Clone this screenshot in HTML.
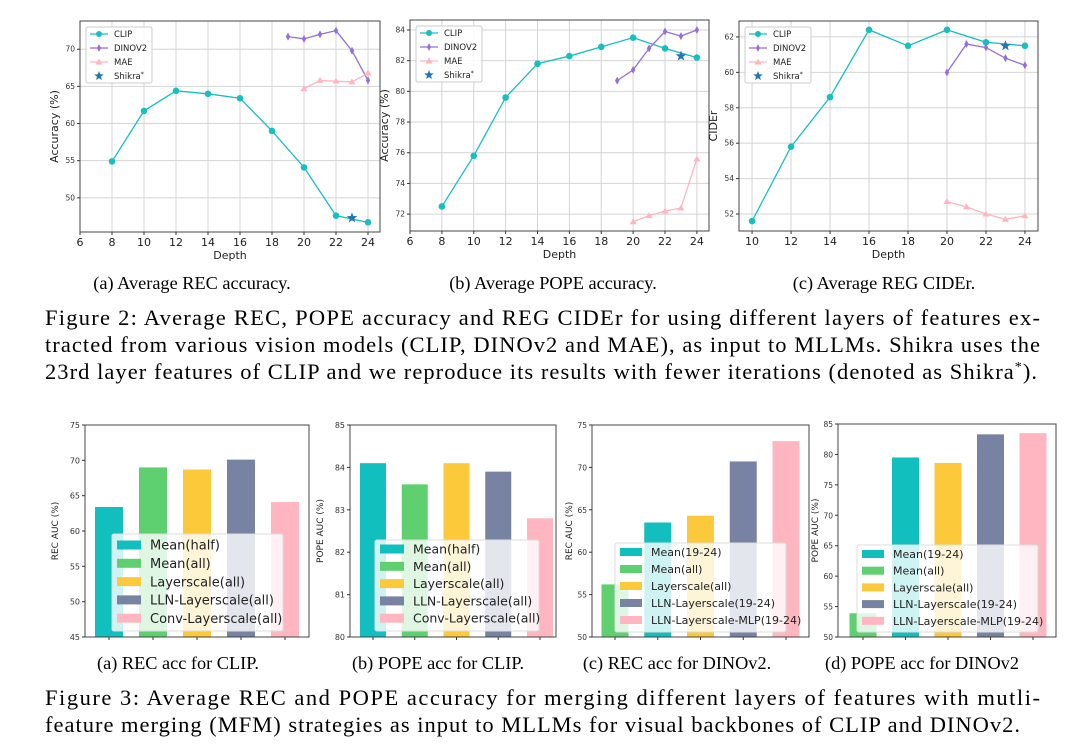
<!DOCTYPE html>
<html><head><meta charset="utf-8"><style>
html,body{margin:0;padding:0;background:#fff;width:1076px;height:751px;overflow:hidden}
svg{display:block}
</style></head><body>
<svg id="fig" width="1076" height="751" xmlns="http://www.w3.org/2000/svg" font-family="'DejaVu Sans','Liberation Sans',sans-serif">
<g id="captions" font-family="'Liberation Serif',serif" fill="#000">
<text x="192" y="289" font-size="18.3" text-anchor="middle">(a) Average REC accuracy.</text>
<text x="553" y="289" font-size="18.3" text-anchor="middle">(b) Average POPE accuracy.</text>
<text x="884" y="289" font-size="18.3" text-anchor="middle">(c) Average REG CIDEr.</text>
<text x="45" y="325" font-size="22.5" textLength="995" lengthAdjust="spacing">Figure 2: Average REC, POPE accuracy and REG CIDEr for using different layers of features ex-</text>
<text x="45" y="352" font-size="22.5" textLength="995" lengthAdjust="spacing">tracted from various vision models (CLIP, DINOv2 and MAE), as input to MLLMs. Shikra uses the</text>
<text x="45" y="379" font-size="22.5" textLength="992" lengthAdjust="spacing">23rd layer features of CLIP and we reproduce its results with fewer iterations (denoted as Shikra<tspan dy="-8" font-size="14">*</tspan><tspan dy="8">).</tspan></text>
<text x="178" y="669" font-size="18.3" text-anchor="middle">(a) REC acc for CLIP.</text>
<text x="438" y="669" font-size="18.3" text-anchor="middle">(b) POPE acc for CLIP.</text>
<text x="677" y="669" font-size="18.3" text-anchor="middle">(c) REC acc for DINOv2.</text>
<text x="922" y="669" font-size="18.3" text-anchor="middle">(d) POPE acc for DINOv2</text>
<text x="45" y="705" font-size="22.5" textLength="995" lengthAdjust="spacing">Figure 3: Average REC and POPE accuracy for merging different layers of features with mutli-</text>
<text x="45" y="732" font-size="22.5" textLength="975" lengthAdjust="spacing">feature merging (MFM) strategies as input to MLLMs for visual backbones of CLIP and DINOv2.</text>
</g>
</svg>
<script>
// ---- Figure 2 data ----
const depthClip1 = [8,10,12,14,16,18,20,22,24];
const clipRec = [54.9,61.7,64.4,64.0,63.4,59.0,54.1,47.6,46.7];
const depthDino = [19,20,21,22,23,24];
const dinoRec = [71.7,71.4,72.0,72.5,69.8,65.8];
const depthMae = [20,21,22,23,24];
const maeRec = [64.7,65.8,65.7,65.6,66.8];
const shikraRec = 47.3;
const clipPope = [72.5,75.8,79.6,81.8,82.3,82.9,83.5,82.8,82.2];
const dinoPope = [80.7,81.4,82.8,83.9,83.6,84.0];
const maePope = [71.5,71.9,72.2,72.4,75.6];
const shikraPope = 82.3;
const depthClip3 = [10,12,14,16,18,20,22,24];
const clipCider = [51.6,55.8,58.6,62.4,61.5,62.4,61.7,61.5];
const dinoDepth3 = [20,21,22,23,24];
const dinoCider = [60.0,61.6,61.4,60.8,60.4];
const maeCider = [52.7,52.4,52.0,51.7,51.9];
const shikraCider = 61.5;
const shikraDepth = 23;
const xTicksA = [6,8,10,12,14,16,18,20,22,24];
const xTicksC = [10,12,14,16,18,20,22,24];
const yTicksRec = [50,55,60,65,70];
const yTicksPope = [72,74,76,78,80,82,84];
const yTicksCider = [52,54,56,58,60,62];
// ---- Figure 3 data ----
const labelsClip = ["Mean(half)","Mean(all)","Layerscale(all)","LLN-Layerscale(all)","Conv-Layerscale(all)"];
const recClip = [63.4,69.0,68.7,70.1,64.1];
const popeClip = [84.1,83.6,84.1,83.9,82.8];
const labelsDino = ["Mean(19-24)","Mean(all)","Layerscale(all)","LLN-Layerscale(19-24)","LLN-Layerscale-MLP(19-24)"];
const barOrderDino = [1,0,2,3,4];
const recDino = [63.5,56.2,64.3,70.7,73.1];
const popeDino = [79.5,53.9,78.6,83.3,83.5];
const yTicksRecClip = [45,50,55,60,65,70,75];
const yTicksPopeClip = [80,81,82,83,84,85];
const yTicksRecDino = [50,55,60,65,70,75];
const yTicksPopeDino = [50,55,60,65,70,75,80,85];

const NS="http://www.w3.org/2000/svg";
const svg=document.getElementById('fig');
function mk(tag,attrs,parent){const e=document.createElementNS(NS,tag);for(const k in attrs)e.setAttribute(k,attrs[k]);(parent||svg).appendChild(e);return e;}
const COL={clip:"#17bfbf",dino:"#9370db",mae:"#ffb6c1",shikra:"#1f77b4"};
const BAR=["#12bfbf","#5fd070","#fbc93a","#7882a3","#ffb6c1"];

function starPath(cx,cy,r){let d="";for(let i=0;i<10;i++){const a=-Math.PI/2+i*Math.PI/5;const rr=i%2?r*0.42:r;d+=(i?"L":"M")+(cx+rr*Math.cos(a)).toFixed(2)+","+(cy+rr*Math.sin(a)).toFixed(2);}return d+"Z";}

function lineChart(o){
  const g=mk('g',{});
  
  
  const sx=v=>o.x0+(v-o.xmin)/(o.xmax-o.xmin)*(o.x1-o.x0);
  const sy=v=>o.y1-(v-o.ymin)/(o.ymax-o.ymin)*(o.y1-o.y0);
  o.xt.forEach(t=>{
    const l=mk('line',{x1:sx(t),x2:sx(t),y1:o.y0,y2:o.y1,stroke:"#d4d4d4","stroke-width":1},g);
    
    mk('line',{x1:sx(t),x2:sx(t),y1:o.y1,y2:o.y1+3,stroke:"#333"},g);
    const tx=mk('text',{x:sx(t),y:o.y1+14,"font-size":11,"text-anchor":"middle",fill:"#222"},g);tx.textContent=t;
    
  });
  o.yt.forEach(t=>{
    const l=mk('line',{x1:o.x0,x2:o.x1,y1:sy(t),y2:sy(t),stroke:"#d4d4d4","stroke-width":1},g);
    
    mk('line',{x1:o.x0-3,x2:o.x0,y1:sy(t),y2:sy(t),stroke:"#333"},g);
    const tx=mk('text',{x:o.x0-5,y:sy(t)+2.5,"font-size":7.5,"text-anchor":"end",fill:"#333"},g);tx.textContent=t;
    
  });
  const fr=mk('rect',{x:o.x0,y:o.y0,width:o.x1-o.x0,height:o.y1-o.y0,fill:"none",stroke:"#444","stroke-width":1},g);
  
  const xl=mk('text',{x:(o.x0+o.x1)/2,y:o.y1+27,"font-size":11,"text-anchor":"middle",fill:"#222"},g);xl.textContent="Depth";
  
  const yl=mk('text',{x:0,y:0,"font-size":11,"text-anchor":"middle",fill:"#222",transform:`translate(${o.x0-o.ylOff},${(o.y0+o.y1)/2}) rotate(-90)`},g);yl.textContent=o.ylabel;
  
  const series=[["clip",o.cx,o.cy],["dino",o.dx,o.dy],["mae",o.mx,o.my]];
  series.forEach(([k,xs,ys])=>{
    const pl=mk('polyline',{points:xs.map((x,i)=>sx(x)+","+sy(ys[i])).join(" "),fill:"none",stroke:COL[k],"stroke-width":1.3},g);
    
    xs.forEach((x,i)=>{
      const X=sx(x),Y=sy(ys[i]);let m;
      if(k==="clip")m=mk('circle',{cx:X,cy:Y,r:3.3,fill:COL[k]},g);
      else if(k==="dino")m=mk('path',{d:`M${X},${Y-4}L${X+2.2},${Y}L${X},${Y+4}L${X-2.2},${Y}Z`,fill:COL[k]},g);
      else m=mk('path',{d:`M${X},${Y-3.5}L${X+3.5},${Y+2.5}L${X-3.5},${Y+2.5}Z`,fill:COL[k]},g);
      
    });
  });
  const st=mk('path',{d:starPath(sx(shikraDepth),sy(o.sh),5.5),fill:COL.shikra},g);
  
  const lx=o.x0+6,ly=o.y0+6;
  const lg=mk('rect',{x:lx,y:ly,width:66,height:56,fill:"#fff","fill-opacity":0.85,stroke:"#ccc",rx:2},g);
  
  const names=["CLIP","DINOV2","MAE","Shikra"];const keys=["clip","dino","mae","shikra"];
  keys.forEach((k,i)=>{
    const y=ly+7+i*14,X=lx+13;
    if(k!=="shikra")mk('line',{x1:lx+4,x2:lx+22,y1:y,y2:y,stroke:COL[k],"stroke-width":1.3},g);
    if(k==="clip")mk('circle',{cx:X,cy:y,r:3,fill:COL[k]},g);
    else if(k==="dino")mk('path',{d:`M${X},${y-4}L${X+2},${y}L${X},${y+4}L${X-2},${y}Z`,fill:COL[k]},g);
    else if(k==="mae")mk('path',{d:`M${X},${y-3.5}L${X+3.5},${y+2.5}L${X-3.5},${y+2.5}Z`,fill:COL[k]},g);
    else mk('path',{d:starPath(X,y,5),fill:COL[k]},g);
    const t=mk('text',{x:lx+28,y:y+3,"font-size":8.5,fill:"#222"},g);t.textContent=names[i];
    if(k==="shikra"){const s=mk('tspan',{dy:-3,"font-size":6},t);s.textContent="*";}
    
  });
}

lineChart({name:"rec-accuracy-chart",x0:80,x1:380,y0:21,y1:232,xmin:6,xmax:24.75,ymin:45.4,ymax:73.8,xt:xTicksA,yt:yTicksRec,ylabel:"Accuracy (%)",ylOff:22,
  cx:depthClip1,cy:clipRec,dx:depthDino,dy:dinoRec,mx:depthMae,my:maeRec,sh:shikraRec});
lineChart({name:"pope-accuracy-chart",x0:410,x1:709,y0:20,y1:231,xmin:6,xmax:24.76,ymin:70.9,ymax:84.65,xt:xTicksA,yt:yTicksPope,ylabel:"Accuracy (%)",ylOff:22,
  cx:depthClip1,cy:clipPope,dx:depthDino,dy:dinoPope,mx:depthMae,my:maePope,sh:shikraPope});
lineChart({name:"reg-cider-chart",x0:739,x1:1038,y0:21,y1:231,xmin:9.33,xmax:24.67,ymin:51.04,ymax:62.9,xt:xTicksC,yt:yTicksCider,ylabel:"CIDEr",ylOff:22,
  cx:depthClip3,cy:clipCider,dx:dinoDepth3,dy:dinoCider,mx:dinoDepth3,my:maeCider,sh:shikraCider});

function barChart(o){
  const g=mk('g',{});
  
  
  const sy=v=>o.y1-(v-o.ymin)/(o.ymax-o.ymin)*(o.y1-o.y0);
  const n=o.vals.length;const step=(o.bx1-o.bx0)/(n-1);
  o.vals.forEach((v,i)=>{
    const cx=o.bx0+i*step;
    const r=mk('rect',{x:cx-o.bw/2,y:sy(v),width:o.bw,height:o.y1-sy(v),fill:BAR[o.colorIdx[i]]},g);
    
    mk('line',{x1:cx,x2:cx,y1:o.y1,y2:o.y1+3,stroke:"#333"},g);
  });
  const fr=mk('rect',{x:o.x0,y:o.y0,width:o.x1-o.x0,height:o.y1-o.y0,fill:"none",stroke:"#444","stroke-width":1},g);
  
  o.yt.forEach(t=>{
    mk('line',{x1:o.x0-3,x2:o.x0,y1:sy(t),y2:sy(t),stroke:"#333"},g);
    const tx=mk('text',{x:o.x0-5,y:sy(t)+3,"font-size":o.tf,"text-anchor":"end",fill:"#333"},g);tx.textContent=t;
    
  });
  const yl=mk('text',{x:0,y:0,"font-size":9,"text-anchor":"middle",fill:"#222",transform:`translate(${o.x0-o.ylOff},${(o.y0+o.y1)/2}) rotate(-90)`},g);yl.textContent=o.ylabel;
  
  const L=o.leg;
  const lg=mk('rect',{x:L.x,y:L.y,width:L.w,height:L.h,fill:"#fff","fill-opacity":0.8,stroke:"#ddd",rx:2},g);
  
  o.labels.forEach((lab,i)=>{
    const y=L.y+L.pad+i*L.sp;
    mk('rect',{x:L.x+5,y:y-L.sw/2,width:L.swW,height:L.sw,fill:BAR[i]},g);
    const t=mk('text',{x:L.x+L.swW+14,y:y+L.fs*0.36,"font-size":L.fs,fill:"#222"},g);t.textContent=lab;
    
  });
}
barChart({name:"rec-clip-bar-chart",x0:85,x1:309,y0:425,y1:637,ymin:45,ymax:75,yt:yTicksRecClip,tf:8,ylabel:"REC AUC (%)",ylOff:27,
  vals:recClip,colorIdx:[0,1,2,3,4],bx0:109,bx1:285,bw:28,labels:labelsClip,
  leg:{x:112,y:534,w:171,h:97,pad:11,sp:18.3,sw:9,swW:24,fs:13}});
barChart({name:"pope-clip-bar-chart",x0:350,x1:556,y0:425,y1:637,ymin:80,ymax:85,yt:yTicksPopeClip,tf:8,ylabel:"POPE AUC (%)",ylOff:27,
  vals:popeClip,colorIdx:[0,1,2,3,4],bx0:373,bx1:540,bw:26,labels:labelsClip,
  leg:{x:375,y:540,w:164,h:91,pad:9,sp:17.3,sw:9,swW:24,fs:12.5}});
barChart({name:"rec-dino-bar-chart",x0:592,x1:809,y0:425,y1:637,ymin:50,ymax:75,yt:yTicksRecDino,tf:7.5,ylabel:"REC AUC (%)",ylOff:20,
  vals:barOrderDino.map(i=>recDino[i]),colorIdx:barOrderDino,bx0:615,bx1:786,bw:27,labels:labelsDino,
  leg:{x:615,y:543,w:171,h:89,pad:9,sp:17,sw:8,swW:22,fs:11}});
barChart({name:"pope-dino-bar-chart",x0:838,x1:1056,y0:424,y1:637,ymin:50,ymax:85,yt:yTicksPopeDino,tf:7.5,ylabel:"POPE AUC (%)",ylOff:20,
  vals:barOrderDino.map(i=>popeDino[i]),colorIdx:barOrderDino,bx0:863,bx1:1033,bw:27,labels:labelsDino,
  leg:{x:857,y:545,w:181,h:87,pad:9,sp:16.7,sw:8,swW:22,fs:11}});
</script>
</body></html>
